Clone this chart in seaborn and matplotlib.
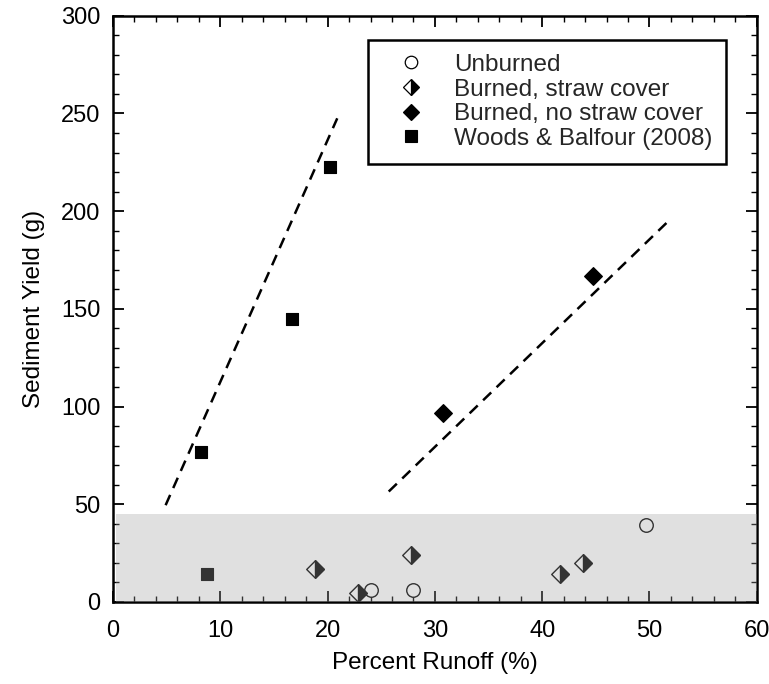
import matplotlib
matplotlib.use("Agg")
import matplotlib.pyplot as plt
from matplotlib.lines import Line2D
from matplotlib.markers import MarkerStyle
from matplotlib.ticker import MultipleLocator
import seaborn as sns
import pandas as pd

# Runoff (%) and sediment yield (g) for each treatment
unburned_runoff = [24.0, 28.0, 49.7]
unburned_yield = [6.0, 6.0, 39.5]

straw_runoff = [18.8, 22.8, 27.8, 41.7, 43.8]
straw_yield = [17.0, 4.5, 24.0, 14.5, 20.0]

nostraw_runoff = [30.8, 44.7]
nostraw_yield = [96.8, 166.8]

woods_runoff = [8.2, 16.7, 20.2, 8.8]
woods_yield = [76.5, 145.0, 222.5, 14.5]

# Trend lines (end points)
trend_left_x = [4.9, 20.9]
trend_left_y = [49.5, 247.5]
trend_right_x = [25.7, 51.6]
trend_right_y = [56.5, 194.0]

band_top = 45.0

sns.set_theme(style="white")
plt.rcParams["font.family"] = ["Liberation Sans", "DejaVu Sans"]

fig = plt.figure(figsize=(7.69, 6.84), dpi=100)
ax = fig.add_axes([0.147, 0.120, 0.837, 0.857])

unburned = pd.DataFrame({"x": unburned_runoff, "y": unburned_yield})
straw = pd.DataFrame({"x": straw_runoff, "y": straw_yield})
nostraw = pd.DataFrame({"x": nostraw_runoff, "y": nostraw_yield})
woods = pd.DataFrame({"x": woods_runoff, "y": woods_yield})

# dashed trend lines
for tx, ty in [(trend_left_x, trend_left_y), (trend_right_x, trend_right_y)]:
    sns.lineplot(x=tx, y=ty, ax=ax, color="black", lw=1.8,
                 dashes=False, linestyle=(0, (4.5, 3.0)), zorder=2,
                 sort=False, estimator=None)

sns.scatterplot(data=unburned, x="x", y="y", ax=ax, marker="o", s=95,
                facecolor="white", edgecolor="black", linewidth=1.0, zorder=3)

# half-filled diamonds: white base plus dark right half
sns.scatterplot(data=straw, x="x", y="y", ax=ax, marker="D", s=80,
                facecolor="white", edgecolor="black", linewidth=1.0, zorder=3)
sns.scatterplot(data=straw, x="x", y="y", ax=ax,
                marker=MarkerStyle("D", fillstyle="right"), s=80,
                facecolor="black", edgecolor="black", linewidth=1.0, zorder=4)

sns.scatterplot(data=nostraw, x="x", y="y", ax=ax, marker="D", s=80,
                facecolor="black", edgecolor="black", linewidth=1.0, zorder=3)

sns.scatterplot(data=woods, x="x", y="y", ax=ax, marker="s", s=75,
                facecolor="black", edgecolor="black", linewidth=0.8, zorder=3)

# translucent grey band over the low-yield range
ax.axhspan(0, band_top, xmin=0.005, xmax=1.0, facecolor="#9f9f9f",
           alpha=0.32, edgecolor="none", zorder=6)

ax.set_xlim(0, 60)
ax.set_ylim(0, 300)
ax.xaxis.set_major_locator(MultipleLocator(10))
ax.xaxis.set_minor_locator(MultipleLocator(2))
ax.yaxis.set_major_locator(MultipleLocator(50))
ax.yaxis.set_minor_locator(MultipleLocator(10))
ax.tick_params(which="both", direction="in", top=True, right=True,
               bottom=True, left=True, color="black", labelsize=17,
               labelcolor="black", pad=9)
ax.tick_params(axis="x", which="both", pad=13)
ax.tick_params(which="major", length=8, width=1.3)
ax.tick_params(which="minor", length=4, width=1.0)
for sp in ax.spines.values():
    sp.set_visible(True)
    sp.set_color("black")
    sp.set_linewidth(1.8)

ax.set_xlabel("Percent Runoff (%)", fontsize=17.5, color="black", labelpad=7)
ax.set_ylabel("Sediment Yield (g)", fontsize=17.5, color="black", labelpad=12)

handles = [
    Line2D([], [], ls="none", marker="o", ms=9, mfc="white", mec="black", mew=0.9),
    Line2D([], [], ls="none", marker="D", ms=8, fillstyle="right", mfc="black",
           mfcalt="white", mec="black", mew=0.9),
    Line2D([], [], ls="none", marker="D", ms=8, mfc="black", mec="black", mew=0.9),
    Line2D([], [], ls="none", marker="s", ms=8, mfc="black", mec="black", mew=0.8),
]
labels = ["Unburned", "Burned, straw cover", "Burned, no straw cover",
          "Woods & Balfour (2008)"]
leg = ax.legend(handles, labels, loc="upper right",
                bbox_to_anchor=(0.953, 0.959), borderaxespad=0,
                fontsize=17.5, frameon=True, fancybox=False,
                edgecolor="black", framealpha=1, labelspacing=0.11,
                handletextpad=0.55, borderpad=0.58, handlelength=2.4)
leg.get_frame().set_linewidth(1.8)
leg.set_zorder(10)

fig.savefig("out.png", dpi=100)
